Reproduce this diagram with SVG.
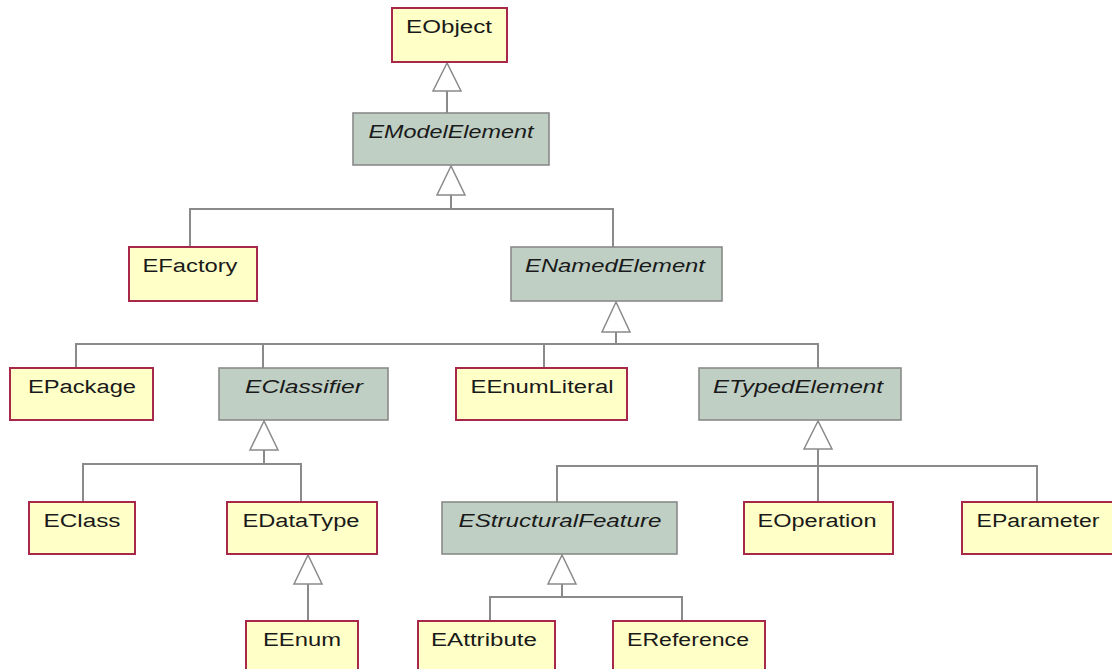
<svg xmlns="http://www.w3.org/2000/svg" width="1112" height="669" viewBox="0 0 1112 669">
<style>
.c rect{fill:#ffffc8;stroke:#a8284c;stroke-width:2}
.a rect{fill:#bfcfc4;stroke:#8a8a8a;stroke-width:1.6}
text{font-family:"Liberation Sans",Arial,sans-serif;font-size:18px;fill:#1a1a1a;text-anchor:middle}
.a text{font-style:italic}
#connectors line,#connectors polyline{stroke:#8a8a8a;stroke-width:2;fill:none}
#connectors polygon{fill:#fff;stroke:#8a8a8a;stroke-width:1.5}
</style>
<rect width="1112" height="669" fill="#fff"/>
<g id="connectors">
<line x1="447" y1="91" x2="447" y2="113"/>
<polygon points="447,63 433,91 461,91"/>
<line x1="451" y1="195" x2="451" y2="209"/>
<polyline points="190,247 190,209 613,209 613,247"/>
<polygon points="451,166 437,195 465,195"/>
<line x1="616" y1="332" x2="616" y2="344"/>
<polyline points="76,368 76,344 818,344 818,368"/>
<line x1="263" y1="344" x2="263" y2="368"/>
<line x1="544" y1="344" x2="544" y2="368"/>
<polygon points="616,302 602,332 630,332"/>
<line x1="264" y1="450" x2="264" y2="464"/>
<polyline points="83,502 83,464 301,464 301,502"/>
<polygon points="264,421 250,450 278,450"/>
<line x1="308" y1="584" x2="308" y2="621"/>
<polygon points="308,555 294,584 322,584"/>
<line x1="818" y1="449" x2="818" y2="502"/>
<polyline points="557,502 557,466 1037,466 1037,502"/>
<polygon points="818,421 804,449 832,449"/>
<line x1="562" y1="584" x2="562" y2="597"/>
<polyline points="490,621 490,597 682,597 682,621"/>
<polygon points="562,555 548,584 576,584"/>
</g>
<g id="EObject" class="c"><rect x="392" y="8" width="115" height="54"/><text x="449" y="33" textLength="86" lengthAdjust="spacingAndGlyphs">EObject</text></g>
<g id="EModelElement" class="a"><rect x="353" y="113" width="196" height="52"/><text x="451" y="138" textLength="165" lengthAdjust="spacingAndGlyphs">EModelElement</text></g>
<g id="EFactory" class="c"><rect x="129" y="247" width="128" height="54"/><text x="190" y="272" textLength="95" lengthAdjust="spacingAndGlyphs">EFactory</text></g>
<g id="ENamedElement" class="a"><rect x="511" y="247" width="211" height="54"/><text x="615" y="272" textLength="180" lengthAdjust="spacingAndGlyphs">ENamedElement</text></g>
<g id="EPackage" class="c"><rect x="10" y="368" width="143" height="52"/><text x="82" y="393" textLength="108" lengthAdjust="spacingAndGlyphs">EPackage</text></g>
<g id="EClassifier" class="a"><rect x="219" y="368" width="169" height="52"/><text x="304" y="393" textLength="118" lengthAdjust="spacingAndGlyphs">EClassifier</text></g>
<g id="EEnumLiteral" class="c"><rect x="456" y="368" width="171" height="52"/><text x="542" y="393" textLength="143" lengthAdjust="spacingAndGlyphs">EEnumLiteral</text></g>
<g id="ETypedElement" class="a"><rect x="699" y="368" width="202" height="52"/><text x="798" y="393" textLength="170" lengthAdjust="spacingAndGlyphs">ETypedElement</text></g>
<g id="EClass" class="c"><rect x="29" y="502" width="106" height="52"/><text x="82" y="527" textLength="77" lengthAdjust="spacingAndGlyphs">EClass</text></g>
<g id="EDataType" class="c"><rect x="227" y="502" width="150" height="52"/><text x="301" y="527" textLength="117" lengthAdjust="spacingAndGlyphs">EDataType</text></g>
<g id="EStructuralFeature" class="a"><rect x="442" y="502" width="235" height="52"/><text x="560" y="527" textLength="203" lengthAdjust="spacingAndGlyphs">EStructuralFeature</text></g>
<g id="EOperation" class="c"><rect x="744" y="502" width="149" height="52"/><text x="817" y="527" textLength="119" lengthAdjust="spacingAndGlyphs">EOperation</text></g>
<g id="EParameter" class="c"><rect x="962" y="502" width="156" height="52"/><text x="1038" y="527" textLength="123" lengthAdjust="spacingAndGlyphs">EParameter</text></g>
<g id="EEnum" class="c"><rect x="246" y="621" width="112" height="54"/><text x="302" y="646" textLength="78" lengthAdjust="spacingAndGlyphs">EEnum</text></g>
<g id="EAttribute" class="c"><rect x="418" y="621" width="137" height="54"/><text x="484" y="646" textLength="106" lengthAdjust="spacingAndGlyphs">EAttribute</text></g>
<g id="EReference" class="c"><rect x="613" y="621" width="152" height="54"/><text x="688" y="646" textLength="122" lengthAdjust="spacingAndGlyphs">EReference</text></g>
</svg>
